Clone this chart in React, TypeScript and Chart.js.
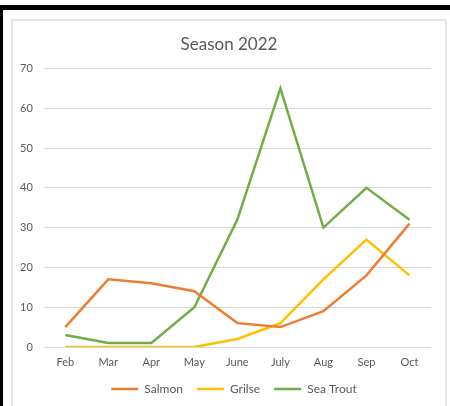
import React, { useEffect, useRef } from "react";
import { Chart, registerables } from "chart.js";

Chart.register(...registerables);

const months = ["Feb", "Mar", "Apr", "May", "June", "July", "Aug", "Sep", "Oct"];
const salmon = [5, 17, 16, 14, 6, 5, 9, 18, 31];
const grilse = [0, 0, 0, 0, 2, 6, 17, 27, 18];
const seaTrout = [3, 1, 1, 10, 32, 65, 30, 40, 32];

const FONT = "Lato, 'Open Sans', sans-serif";
const TXT = "#595959";

const recenter = {
  id: "recenter",
  afterLayout(chart: any) {
    const t = chart.titleBlock;
    if (t) {
      t.left = 0;
      t.right = chart.width;
    }
    const l = chart.legend;
    if (l) {
      l.left = 10;
      l.right = chart.width;
    }
  },
};

export default function App() {
  const ref = useRef<HTMLCanvasElement | null>(null);

  useEffect(() => {
    if (!ref.current) return;
    const mk = (label: string, data: number[], color: string) => ({
      label,
      data,
      borderColor: color,
      backgroundColor: color,
      borderWidth: 2.5,
      pointRadius: 0,
      tension: 0,
      fill: false,
    });
    const chart = new Chart(ref.current, {
      type: "line",
      data: {
        labels: months,
        datasets: [
          mk("Salmon", salmon, "#ED7D31"),
          mk("Grilse", grilse, "#FFC000"),
          mk("Sea Trout", seaTrout, "#70AD47"),
        ],
      },
      options: {
        animation: false,
        responsive: false,
        maintainAspectRatio: false,
        layout: { padding: { left: -4, right: 14, top: 0, bottom: 1 } },
        plugins: {
          title: {
            display: true,
            text: "Season 2022",
            color: TXT,
            font: { family: FONT, size: 17, weight: "normal" },
            padding: { top: 14, bottom: 14 },
          },
          legend: {
            position: "bottom",
            labels: {
              usePointStyle: true,
              pointStyle: "line",
              pointStyleWidth: 27,
              boxWidth: 21,
              color: TXT,
              font: { family: FONT, size: 12 },
              padding: 14,
            },
          },
          tooltip: { enabled: false },
        },
        scales: {
          x: {
            offset: true,
            grid: { display: false },
            border: { display: false },
            ticks: { color: TXT, font: { family: FONT, size: 11 }, padding: 1 },
            afterFit: (s: any) => {
              s.height = 22;
            },
          },
          y: {
            min: 0,
            max: 70,
            ticks: { stepSize: 10, color: TXT, font: { family: FONT, size: 11 }, padding: 11 },
            grid: { color: "#d9d9d9", drawTicks: false, lineWidth: 1 },
            border: { display: false },
          },
        },
      },
      plugins: [recenter],
    });
    return () => chart.destroy();
  }, []);

  return (
    <div style={{ position: "fixed", left: 0, top: 0, width: 450, height: 406, background: "#fff", overflow: "hidden" }}>
      <div style={{ position: "absolute", left: 0, top: 5, width: 450, height: 5, background: "#000" }} />
      <div style={{ position: "absolute", left: 0, top: 5, width: 3, height: 401, background: "#000" }} />
      <div
        style={{
          position: "absolute",
          left: 11,
          top: 19,
          width: 432,
          height: 400,
          border: "2px solid #e6e6e6",
          boxSizing: "content-box",
        }}
      />
      <canvas ref={ref} width={432} height={386} style={{ position: "absolute", left: 13, top: 20, width: 432, height: 386 }} />
    </div>
  );
}
